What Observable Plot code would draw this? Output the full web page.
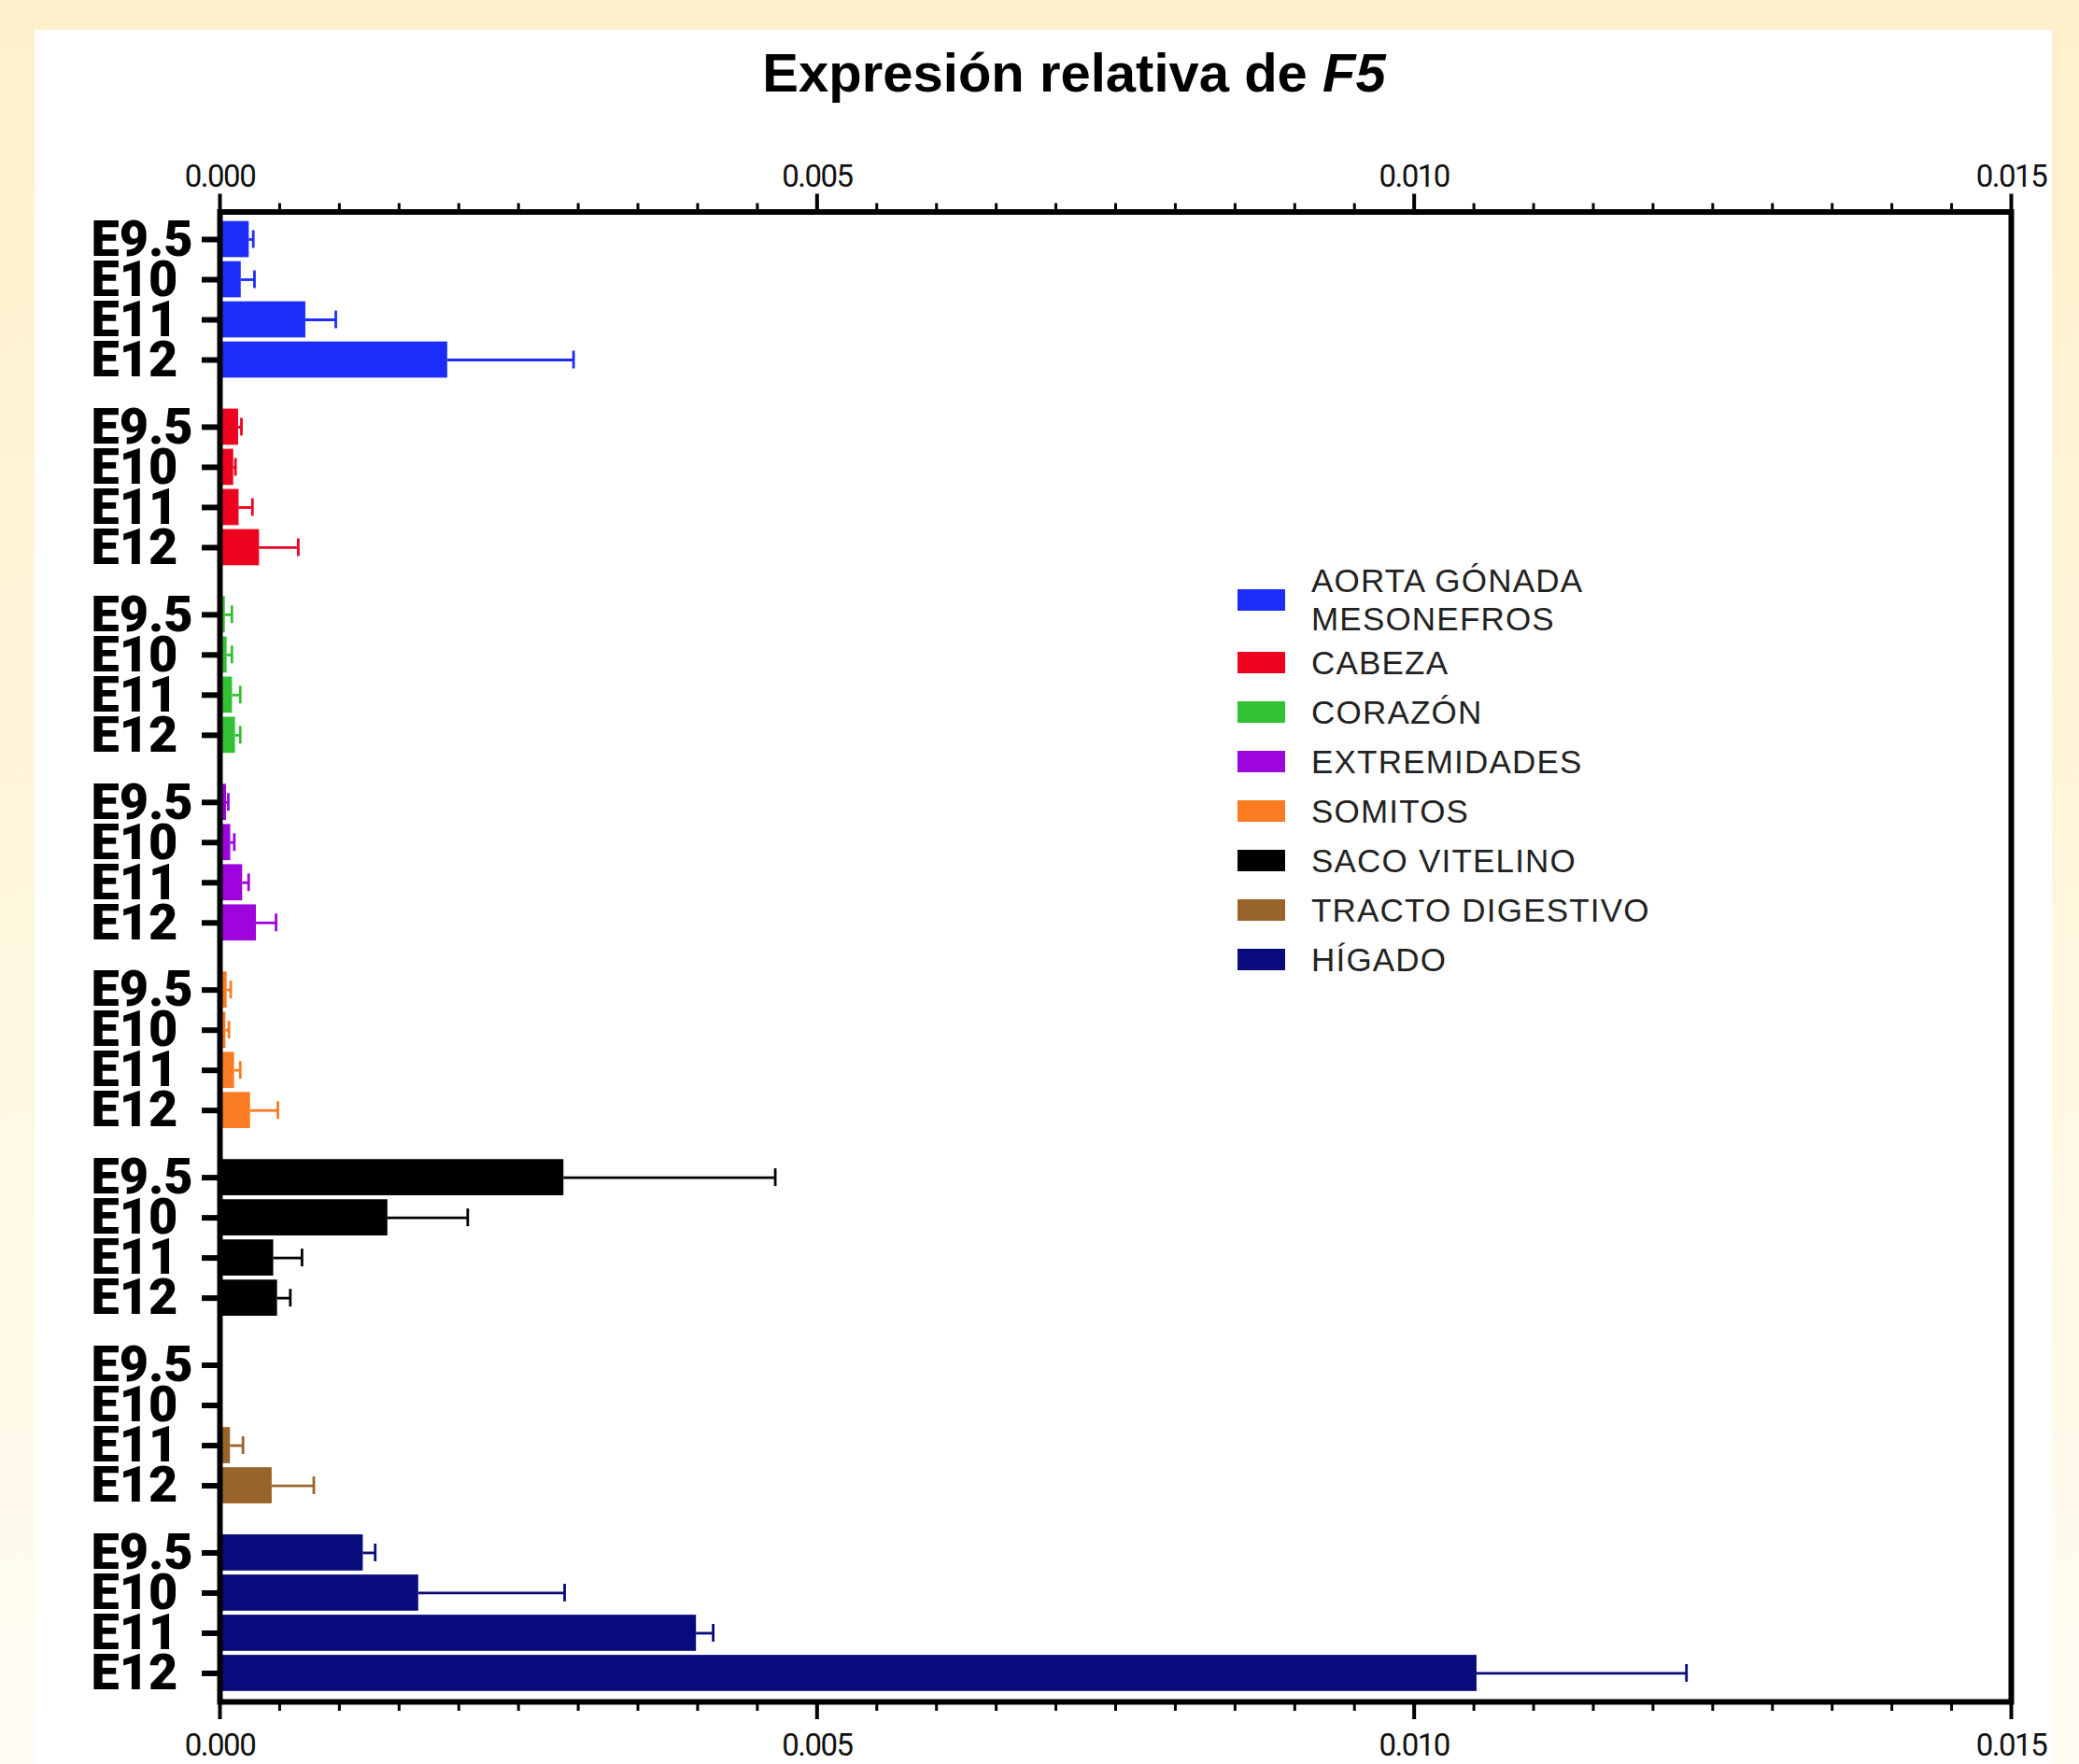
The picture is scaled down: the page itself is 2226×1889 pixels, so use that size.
<!DOCTYPE html>
<html>
<head>
<meta charset="utf-8">
<script src="https://cdn.jsdelivr.net/npm/d3@7"></script>
<script src="https://cdn.jsdelivr.net/npm/@observablehq/plot@0.6"></script>
<style>
  html, body { margin: 0; padding: 0; }
  body {
    width: 2226px; height: 1889px; overflow: hidden; position: relative;
    background: linear-gradient(to bottom, #fff0cb 0%, #fff6dd 50%, #fffcf3 100%);
  }
  #panel { position: absolute; left: 37px; top: 32px; width: 2160px; height: 1857px; background: #ffffff; }
  #title {
    position: absolute; left: 0; top: 49px; width: 2300px; text-align: center;
    font-family: "Liberation Sans", Arial, sans-serif; font-weight: 700; font-size: 58px;
    line-height: 58px; color: #000;
  }
  #chart { position: absolute; left: 0; top: 0; }
  #legend {
    position: absolute; left: 1325px; top: 601px;
    font-family: "Liberation Sans", Arial, sans-serif; font-size: 35px; color: #222;
    letter-spacing: 1.2px;
  }
  .lrow { display: flex; align-items: center; height: 53px; }
  .lrow.two { height: 82px; }
  .sw { width: 51px; height: 23px; margin-right: 28px; flex: none; }
  .lt { white-space: pre-line; line-height: 41px; }
  g[aria-label="x-axis tick label"] text { letter-spacing: -1.5px; }
</style>
</head>
<body>
<div id="panel"></div>
<div id="title">Expresión relativa de <i>F5</i></div>
<div id="chart"></div>
<div id="legend"></div>
<script>
// ---- data ----
const tissues = ["AORTA GÓNADA\nMESONEFROS", "CABEZA", "CORAZÓN", "EXTREMIDADES", "SOMITOS", "SACO VITELINO", "TRACTO DIGESTIVO", "HÍGADO"];
const stages = ["E9.5", "E10", "E11", "E12"];
const colors = ["#1c2dfa", "#ee0220", "#33c233", "#9d05dc", "#fb7b22", "#000000", "#99642b", "#090b7d"];
// mean relative expression, per tissue, per stage
const means = [
  [0.000245, 0.000178, 0.000719, 0.001907],
  [0.000156, 0.000115, 0.000160, 0.000331],
  [0.000045, 0.000060, 0.000105, 0.000130],
  [0.000055, 0.000090, 0.000190, 0.000305],
  [0.000060, 0.000050, 0.000122, 0.000256],
  [0.002880, 0.001406, 0.000450, 0.000482],
  [0.000000, 0.000000, 0.000088, 0.000437],
  [0.001200, 0.001664, 0.003990, 0.010526]
];
// error (upper whisker length), per tissue, per stage
const sems = [
  [0.000034, 0.000111, 0.000251, 0.001054],
  [0.000024, 0.000015, 0.000112, 0.000325],
  [0.000055, 0.000040, 0.000065, 0.000040],
  [0.000015, 0.000030, 0.000050, 0.000165],
  [0.000030, 0.000025, 0.000048, 0.000229],
  [0.001770, 0.000669, 0.000237, 0.000107],
  [0.000000, 0.000000, 0.000105, 0.000349],
  [0.000100, 0.001222, 0.000140, 0.001754]
];
const xTicksMajor = [0, 0.005, 0.010, 0.015];
const xTicksMinor = d3.range(0, 0.01501, 0.0005);

// ---- layout helpers ----
const GAP = 0.672; // extra space between tissue groups, in row units
const rows = [];
tissues.forEach((t, g) => stages.forEach((s, i) => rows.push({
  tissue: t, stage: s, slot: g * (stages.length + GAP) + i, mean: means[g][i], sem: sems[g][i]
})));
const errRows = rows.filter(d => d.sem > 0);
const stageBySlot = new Map(rows.map(d => [d.slot, d.stage]));
const yTop = -0.686, yBottom = (tissues.length - 1) * (stages.length + GAP) + stages.length - 1 + 0.71;

const tickFont = {fontFamily: "Roboto, 'Liberation Sans', sans-serif", fontSize: 33, fill: "#111"};

const chart = Plot.plot({
  width: 2226, height: 1889,
  marginLeft: 235, marginRight: 73, marginTop: 226.5, marginBottom: 67,
  style: {background: "transparent", overflow: "visible"},
  x: {domain: [0, 0.015], axis: null, label: null},
  y: {domain: [yTop, yBottom], reverse: true, axis: null, label: null},
  color: {domain: tissues, range: colors},
  marks: [
    Plot.rect(rows, {x1: 0, x2: "mean", y1: d => d.slot - 0.45, y2: d => d.slot + 0.45, fill: "tissue"}),
    Plot.ruleY(errRows, {y: "slot", x1: "mean", x2: d => d.mean + d.sem, stroke: "tissue", strokeWidth: 2.8}),
    Plot.ruleX(errRows, {x: d => d.mean + d.sem, y1: d => d.slot - 0.22, y2: d => d.slot + 0.22, stroke: "tissue", strokeWidth: 2.8}),
    Plot.frame({stroke: "#000", strokeWidth: 6}),
    Plot.axisX({anchor: "top", label: null, ticks: xTicksMinor, tickSize: 10, tickFormat: () => "", strokeWidth: 3, stroke: "#000"}),
    Plot.axisX({anchor: "bottom", label: null, ticks: xTicksMinor, tickSize: 10, tickFormat: () => "", strokeWidth: 3, stroke: "#000"}),
    Plot.axisX({anchor: "top", label: null, ticks: xTicksMajor, tickSize: 20, tickPadding: 7, tickFormat: d3.format(".3f"), strokeWidth: 4, stroke: "#000", ...tickFont}),
    Plot.axisX({anchor: "bottom", label: null, ticks: xTicksMajor, tickSize: 19, tickPadding: 15, tickFormat: d3.format(".3f"), strokeWidth: 4, stroke: "#000", ...tickFont}),
    Plot.axisY(rows.map(d => d.slot), {
      anchor: "left", label: null, tickSize: 19, tickPadding: 119, textAnchor: "start",
      tickFormat: s => stageBySlot.get(s), strokeWidth: 6, stroke: "#000", fill: "#000",
      fontFamily: "Roboto, 'Liberation Sans', sans-serif", fontSize: 54, fontWeight: 900
    })
  ]
});
document.getElementById("chart").appendChild(chart);

// ---- legend ----
const legend = d3.select("#legend");
tissues.forEach((t, i) => {
  const row = legend.append("div").attr("class", "lrow" + (t.includes("\n") ? " two" : ""));
  row.append("div").attr("class", "sw").style("background", colors[i]);
  row.append("div").attr("class", "lt").text(t);
});
</script>
</body>
</html>
